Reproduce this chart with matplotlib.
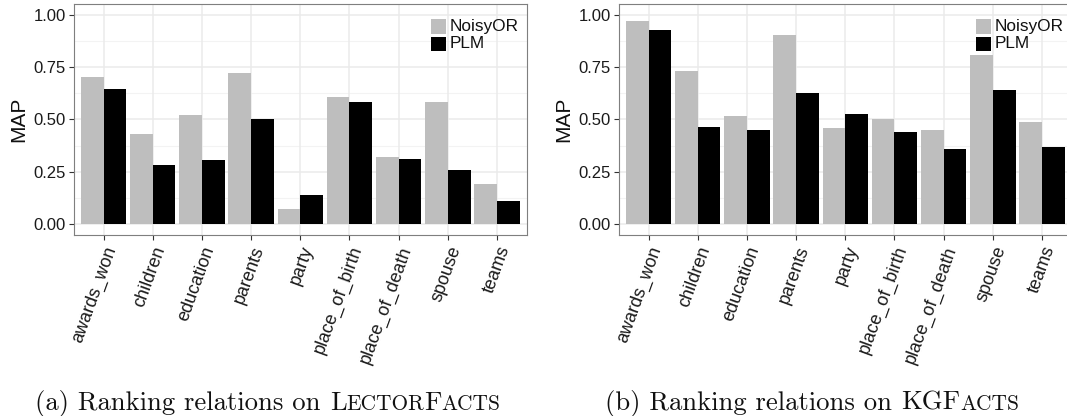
import matplotlib
matplotlib.use('Agg')
import matplotlib.pyplot as plt
from matplotlib.patches import Rectangle
import numpy as np

# ---------------- data ----------------
categories = ['awards_won', 'children', 'education', 'parents', 'party',
              'place_of_birth', 'place_of_death', 'spouse', 'teams']
series_names = ['NoisyOR', 'PLM']
lector_noisyor = [0.703, 0.431, 0.522, 0.722, 0.072, 0.608, 0.321, 0.584, 0.191]
lector_plm     = [0.646, 0.282, 0.306, 0.502, 0.139, 0.584, 0.311, 0.258, 0.110]
kg_noisyor     = [0.971, 0.732, 0.517, 0.904, 0.459, 0.502, 0.450, 0.809, 0.488]
kg_plm         = [0.928, 0.464, 0.450, 0.627, 0.526, 0.440, 0.359, 0.638, 0.368]
y_ticks = [0.0, 0.25, 0.5, 0.75, 1.0]
y_tick_labels = ['0.00', '0.25', '0.50', '0.75', '1.00']
y_minor = [0.125, 0.375, 0.625, 0.875]
y_label = 'MAP'
captions = [
    [("(a) Ranking relations on", 1.0), (" ", 1.0), ("L", 1.0), ("ECTOR", 0.8), ("F", 1.0), ("ACTS", 0.8)],
    [("(b) Ranking relations on", 1.0), (" ", 1.0), ("KGF", 1.0), ("ACTS", 0.8)],
]

# ---------------- style ----------------
GRAY = '#BEBEBE'
BLACK = '#000000'
FONT = 'Liberation Sans'
plt.rcParams['font.family'] = [FONT, 'DejaVu Sans']

W, H = 1067, 416
fig = plt.figure(figsize=(W / 100, H / 100), dpi=100)

ax_w = 452.6 / W
ax_h = 230.3 / H
ax_b = 1 - 234.5 / H
lefts = [74 / W, 619 / W]
datasets = [(lector_noisyor, lector_plm), (kg_noisyor, kg_plm)]

x = np.arange(1, len(categories) + 1)
bw = 0.46

for left, (s1, s2) in zip(lefts, datasets):
    ax = fig.add_axes([left, ax_b, ax_w, ax_h])
    ax.set_xlim(0.4, len(categories) + 0.6)
    ax.set_ylim(-0.05, 1.05)
    ax.set_axisbelow(True)
    for yv in y_minor:
        ax.axhline(yv, color='#F3F3F3', lw=0.8, zorder=0)
    ax.grid(True, which='major', color='#EBEBEB', lw=1.1, zorder=0)
    ax.bar(x - bw / 2, s1, width=bw, color=GRAY, label=series_names[0], zorder=2)
    ax.bar(x + bw / 2, s2, width=bw, color=BLACK, label=series_names[1], zorder=2)
    ax.set_yticks(y_ticks)
    ax.set_yticklabels(y_tick_labels, fontsize=12, color='#1a1a1a')
    ax.set_xticks(x)
    ax.set_xticklabels(categories, fontsize=13, color='#1a1a1a',
                       rotation=70, rotation_mode='anchor', ha='right', va='top')
    ax.tick_params(axis='both', length=3.8, width=0.8, color='#333333', pad=2)
    ax.tick_params(axis='x', pad=3)
    for sp in ax.spines.values():
        sp.set_color('#7F7F7F')
        sp.set_linewidth(0.8)
    ax.set_ylabel(y_label, fontsize=15, color='#111111', labelpad=4)
    # legend drawn inside the panel
    kx, kw = 0.7888, 0.0325
    keys = [(0.8706, 0.934), (0.798, 0.859)]
    for (yb, yt), col, name in zip(keys, [GRAY, BLACK], series_names):
        ax.add_patch(Rectangle((kx, yb), kw, yt - yb, transform=ax.transAxes,
                               facecolor=col, edgecolor='none', zorder=5, clip_on=False))
        ax.text(0.8308, (yb + yt) / 2, name, transform=ax.transAxes, fontsize=12.4,
                va='center', ha='left', color='#111111', zorder=6)

# ---------------- captions (small caps emulated) ----------------
fig.canvas.draw()
renderer = fig.canvas.get_renderer()
CAP_FS = 19.2
def width_of(s, size):
    t = fig.text(0, 0, s, fontsize=size, family='cmr10')
    w = t.get_window_extent(renderer).width
    t.remove()
    return w

space_w = width_of('x x', CAP_FS) - width_of('xx', CAP_FS)
centers = [268, 812]
baseline = 416 - 410
for pieces, cx in zip(captions, centers):
    ws = []
    for s, sc in pieces:
        if s == ' ':
            ws.append(space_w)
        else:
            ws.append(width_of(s, CAP_FS * sc))
    total = sum(ws)
    xpos = cx - total / 2
    for (s, sc), w in zip(pieces, ws):
        if s != ' ':
            fig.text(xpos / W, baseline / H, s, fontsize=CAP_FS * sc, family='cmr10',
                     ha='left', va='baseline', color='#111111')
        xpos += w

fig.savefig('out.png', dpi=100)
